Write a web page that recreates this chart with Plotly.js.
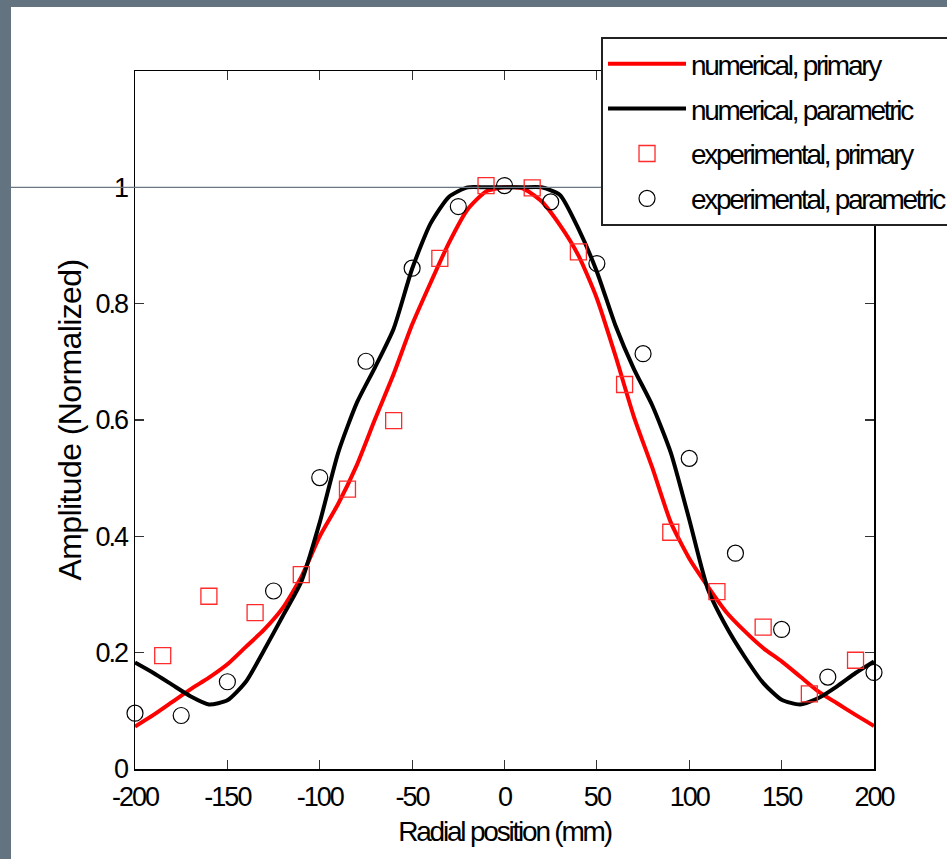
<!DOCTYPE html>
<html>
<head>
<meta charset="utf-8">
<script src="https://cdn.plot.ly/plotly-3.0.1.min.js"></script>
<style>
html,body{margin:0;padding:0;background:#637380;width:947px;height:859px;overflow:hidden;}
#chart{position:absolute;left:11px;top:7px;width:936px;height:852px;background:#fff;}
.xtick text, .ytick text{letter-spacing:-2px;}
.legendtext{letter-spacing:-2.3px;}
.xtitle{letter-spacing:-2.2px;}
.ytitle{letter-spacing:-0.6px;}
</style>
</head>
<body>
<div id="chart"></div>
<script>
// Numerical curves (sampled every 10 mm)
const xNum = [-200,-190,-180,-170,-160,-150,-140,-130,-120,-110,-100,-90,-80,-70,-60,-50,-40,-30,-20,-10,0,10,20,30,40,50,60,70,80,90,100,110,120,130,140,150,160,170,180,190,200];
const yNumPrimary = [0.073,0.093,0.115,0.137,0.157,0.180,0.210,0.240,0.277,0.330,0.400,0.456,0.522,0.602,0.679,0.764,0.836,0.905,0.962,0.993,1.000,0.998,0.976,0.935,0.883,0.809,0.711,0.606,0.518,0.424,0.362,0.314,0.270,0.237,0.208,0.185,0.159,0.133,0.113,0.093,0.074];
const yNumParametric = [0.183,0.165,0.145,0.125,0.111,0.118,0.150,0.205,0.263,0.322,0.424,0.544,0.629,0.691,0.757,0.860,0.938,0.984,1.000,1.000,1.000,1.000,1.000,0.987,0.929,0.855,0.763,0.688,0.625,0.544,0.429,0.310,0.245,0.193,0.148,0.119,0.111,0.122,0.142,0.165,0.185];

// Experimental data
const xExpPrimary = [-185,-160,-135,-110,-85,-60,-35,-10,15,40,65,90,115,140,165,190];
const yExpPrimary = [0.195,0.297,0.269,0.334,0.481,0.599,0.878,1.003,0.999,0.889,0.661,0.407,0.305,0.244,0.129,0.187];
const xExpParametric = [-200,-175,-150,-125,-100,-75,-50,-25,0,25,50,75,100,125,150,175,200];
const yExpParametric = [0.096,0.092,0.150,0.306,0.501,0.701,0.861,0.967,1.003,0.975,0.869,0.714,0.534,0.371,0.240,0.158,0.166];

const xTicks = [-200,-150,-100,-50,0,50,100,150,200];
const yTicks = [0,0.2,0.4,0.6,0.8,1];
const yTickText = ['0','0.2','0.4','0.6','0.8','1'];

const FONT = '"Liberation Sans", Arial, sans-serif';

const traces = [
  {x:xNum, y:yNumPrimary, type:'scatter', mode:'lines', name:'numerical, primary',
   line:{color:'#ff0000', width:4, shape:'spline', smoothing:0.6}, legendgroup:'a', cliponaxis:false},
  {x:xNum, y:yNumParametric, type:'scatter', mode:'lines', name:'numerical, parametric',
   line:{color:'#000000', width:4, shape:'spline', smoothing:0.6}, legendgroup:'b', cliponaxis:false},
  {x:xExpPrimary, y:yExpPrimary, type:'scatter', mode:'markers', name:'experimental, primary',
   marker:{symbol:'square-open', size:16, color:'#ff2a2a', line:{width:1.3, color:'#ff2a2a'}}, legendgroup:'c', cliponaxis:false},
  {x:xExpParametric, y:yExpParametric, type:'scatter', mode:'markers', name:'experimental, parametric',
   marker:{symbol:'circle-open', size:16, color:'#000000', line:{width:1.2, color:'#000000'}}, legendgroup:'d', cliponaxis:false}
];

const axisCommon = {
  showgrid:false, zeroline:false, showline:true, linecolor:'#000', linewidth:1.5,
  mirror:'ticks', ticks:'inside', ticklen:9, tickwidth:1.2, tickcolor:'#333',
  tickfont:{family:FONT, size:27, color:'#000'}
};

const layout = {
  width:936, height:852,
  margin:{l:124, r:73, t:64, b:90, autoexpand:false},
  paper_bgcolor:'#ffffff', plot_bgcolor:'rgba(0,0,0,0)',
  showlegend:true,
  xaxis:Object.assign({}, axisCommon, {
    range:[-200,200], tickmode:'array', tickvals:xTicks, ticktext:xTicks.map(String),
    ticklabelstandoff:3,
    title:{text:'Radial position (mm)', font:{family:FONT, size:28, color:'#000'}, standoff:10}
  }),
  yaxis:Object.assign({}, axisCommon, {
    range:[0,1.2], tickmode:'array', tickvals:yTicks, ticktext:yTickText,
    ticklabelstandoff:1,
    title:{text:'Amplitude (Normalized)', font:{family:FONT, size:32, color:'#000'}, standoff:4}
  }),
  legend:{
    x:0.6306, y:1.0487, xanchor:'left', yanchor:'top',
    bgcolor:'#ffffff', bordercolor:'#222', borderwidth:2,
    font:{family:FONT, size:28, color:'#000'},
    traceorder:'grouped', tracegroupgap:5.5, itemwidth:78
  },
  shapes:[
    {type:'line', xref:'paper', yref:'y', x0:-0.1678, x1:0.6306, y0:1, y1:1,
     line:{color:'#6b7884', width:1.2}, layer:'above'}
  ]
};

Plotly.newPlot('chart', traces, layout, {staticPlot:true, displayModeBar:false});
</script>
</body>
</html>
